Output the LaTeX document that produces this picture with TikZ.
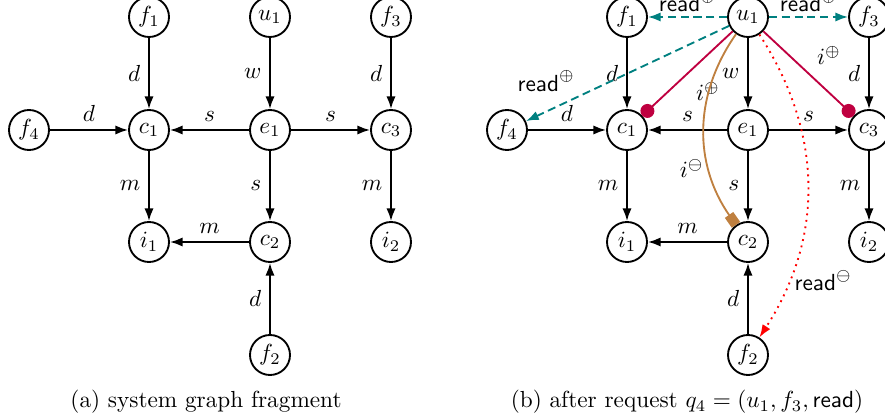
\documentclass[tikz,border=0pt]{standalone}
\usetikzlibrary{arrows.meta}

\begin{document}
\begin{tikzpicture}[x=0.43pt,y=0.43pt,>={Latex[length=5.5pt,width=4pt]},
        vertex/.style={draw,thick,circle,minimum size=17.2pt,inner sep=0pt},
        arr/.style={->,thick},
        readplus/.style={thick,teal,dash pattern=on 3.5pt off 2pt,-{Latex[length=5.5pt,width=4pt]},nodes={text=black}},
        grant/.style={thick,purple,-{Circle[length=6pt]},nodes={text=black}},
        revoke/.style={thick,brown,-{Square[length=5.2pt,width=4.4pt]},nodes={text=black}},
        readminus/.style={thick,red,dotted,-{Latex[length=5.5pt,width=4pt]},nodes={text=black}}]
        \useasboundingbox (0,0) rectangle (885,420);

        % (a) system graph fragment
        \node[vertex] (f1) at (149,403) {$f_1$};
        \node[vertex] (u1) at (270,403) {$u_1$};
        \node[vertex] (f3) at (391,403) {$f_3$};
        \node[vertex] (f4) at (29,290) {$f_4$};
        \node[vertex] (c1) at (149,290) {$c_1$};
        \node[vertex] (e1) at (270,290) {$e_1$};
        \node[vertex] (c3) at (391,290) {$c_3$};
        \node[vertex] (i1) at (149,178) {$i_1$};
        \node[vertex] (c2) at (270,178) {$c_2$};
        \node[vertex] (i2) at (391,178) {$i_2$};
        \node[vertex] (f2) at (270,65) {$f_2$};

        \draw[arr] (f1) -- node[left] {$d$} (c1);
        \draw[arr] (u1) -- node[left] {$w$} (e1);
        \draw[arr] (f3) -- node[left] {$d$} (c3);
        \draw[arr] (f4) -- node[above] {$d$} (c1);
        \draw[arr] (e1) -- node[above] {$s$} (c1);
        \draw[arr] (e1) -- node[above] {$s$} (c3);
        \draw[arr] (c1) -- node[left] {$m$} (i1);
        \draw[arr] (e1) -- node[left] {$s$} (c2);
        \draw[arr] (c3) -- node[left] {$m$} (i2);
        \draw[arr] (c2) -- node[above] {$m$} (i1);
        \draw[arr] (f2) -- node[left] {$d$} (c2);

        \node (capa) at (206,18) {(a) system graph fragment};

        % (b) after request
        \node[vertex] (b-f1) at (627,403) {$f_1$};
        \node[vertex] (b-u1) at (748,403) {$u_1$};
        \node[vertex] (b-f3) at (869,403) {$f_3$};
        \node[vertex] (b-f4) at (507,290) {$f_4$};
        \node[vertex] (b-c1) at (627,290) {$c_1$};
        \node[vertex] (b-e1) at (748,290) {$e_1$};
        \node[vertex] (b-c3) at (869,290) {$c_3$};
        \node[vertex] (b-i1) at (627,178) {$i_1$};
        \node[vertex] (b-c2) at (748,178) {$c_2$};
        \node[vertex] (b-i2) at (869,178) {$i_2$};
        \node[vertex] (b-f2) at (748,65) {$f_2$};

        \draw[arr] (b-f1) -- node[left] {$d$} (b-c1);
        \draw[arr] (b-u1) -- node[left] {$w$} (b-e1);
        \draw[arr] (b-f3) -- node[left] {$d$} (b-c3);
        \draw[arr] (b-f4) -- node[above] {$d$} (b-c1);
        \draw[arr] (b-e1) -- node[above] {$s$} (b-c1);
        \draw[arr] (b-e1) -- node[above] {$s$} (b-c3);
        \draw[arr] (b-c1) -- node[left] {$m$} (b-i1);
        \draw[arr] (b-e1) -- node[left] {$s$} (b-c2);
        \draw[arr] (b-c3) -- node[left] {$m$} (b-i2);
        \draw[arr] (b-c2) -- node[above] {$m$} (b-i1);
        \draw[arr] (b-f2) -- node[left] {$d$} (b-c2);

        \draw[readplus] (b-u1) -- node[above=-1.5pt] {$\textsf{read}^{\oplus}$} (b-f1);
        \draw[readplus] (b-u1) -- node[above=-1.5pt] {$\textsf{read}^{\oplus}$} (b-f3);
        \draw[readplus] (b-u1) -- node[pos=0.9,above=5pt] {$\textsf{read}^{\oplus}$} (b-f4);
        \draw[grant] (b-u1) -- node[below right] {$i^{\oplus}$} (b-c1);
        \draw[grant] (b-u1) -- node[above right] {$i^{\oplus}$} (b-c3);
        \draw[revoke] (b-u1) to[bend right=35] node[pos=0.7,anchor=east,inner sep=2pt] {$i^{\ominus}$} (b-c2);
        \draw[readminus] (b-u1) to[bend left=33] node[pos=0.81,anchor=west,inner sep=2pt] {$\textsf{read}^{\ominus}$} (b-f2);

        \node (capb) at (687,18) {(b) after request $q_4 = (u_1, f_3, \textsf{read})$};
    \end{tikzpicture}
\end{document}
